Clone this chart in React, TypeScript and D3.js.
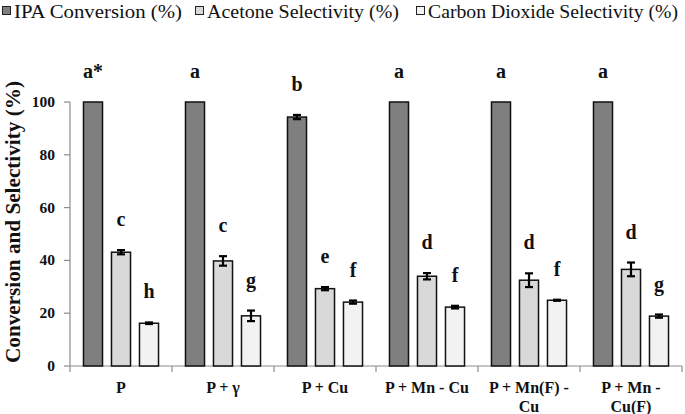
import React from "react";
import * as d3 from "d3";

const categories: string[][] = [
  ["P"],
  ["P + γ"],
  ["P + Cu"],
  ["P + Mn - Cu"],
  ["P + Mn(F) -", "Cu"],
  ["P + Mn -", "Cu(F)"],
];
const seriesNames = ["IPA Conversion (%)", "Acetone Selectivity (%)", "Carbon Dioxide Selectivity (%)"];
const ipaValues = [100, 100, 94.3, 100, 100, 100];
const ipaErrors = [0, 0, 0.8, 0, 0, 0];
const acetoneValues = [43.1, 39.8, 29.3, 34.0, 32.5, 36.6];
const acetoneErrors = [0.8, 1.8, 0.6, 1.2, 2.6, 2.6];
const co2Values = [16.2, 19.0, 24.2, 22.3, 24.9, 18.9];
const co2Errors = [0.3, 2.0, 0.6, 0.5, 0.2, 0.6];
const ipaLetters = ["a*", "a", "b", "a", "a", "a"];
const acetoneLetters = ["c", "c", "e", "d", "d", "d"];
const co2Letters = ["h", "g", "f", "f", "f", "g"];
const yTicks = [0, 20, 40, 60, 80, 100];

const colors = ["#7f7f7f", "#d9d9d9", "#f2f2f2"];
const FONT = "'Liberation Serif', 'Times New Roman', serif";

export default function App() {
  const W = 685, H = 414;
  const x = d3.scaleBand<number>().domain(d3.range(categories.length)).range([70, 682]).padding(0);
  const inner = d3.scaleBand<number>().domain([0, 1, 2]).range([-42, 42]).paddingInner(0.32).paddingOuter(0.16);
  const y = d3.scaleLinear().domain([0, 100]).range([366, 102]);

  const series = [
    { values: ipaValues, errors: ipaErrors, letters: ipaLetters },
    { values: acetoneValues, errors: acetoneErrors, letters: acetoneLetters },
    { values: co2Values, errors: co2Errors, letters: co2Letters },
  ];

  const legendX = [2, 195, 416];
  const legendLen = [168, 192, 250];

  return (
    <svg width={W} height={H} style={{ position: "absolute", left: 0, top: 0, background: "#fff" }} fontFamily={FONT}>
      {/* legend */}
      {seriesNames.map((n, i) => (
        <g key={n}>
          <rect x={legendX[i] + 0.5} y={6.5} width={8} height={8} fill={colors[i]} stroke="#222" strokeWidth={1} />
          <text x={legendX[i] + 12} y={17.5} fontSize={19.6} fill="#111" textLength={legendLen[i]} lengthAdjust="spacingAndGlyphs">{n}</text>
        </g>
      ))}

      {/* y axis */}
      <line x1={70} x2={70} y1={y(100)} y2={y(0)} stroke="#8c8c8c" strokeWidth={1.2} />
      {yTicks.map((t) => (
        <g key={t}>
          <line x1={64} x2={70} y1={y(t)} y2={y(t)} stroke="#8c8c8c" strokeWidth={1.2} />
          <text x={55} y={y(t) + 5} fontSize={15.5} fontWeight="bold" textAnchor="end" fill="#111">{t}</text>
        </g>
      ))}
      <text
        transform={`translate(20, 222) rotate(-90)`}
        fontSize={21}
        fontWeight="bold"
        textAnchor="middle"
        fill="#111"
        textLength={282}
        lengthAdjust="spacingAndGlyphs"
      >
        Conversion and Selectivity (%)
      </text>

      {/* x axis */}
      <line x1={70} x2={682} y1={y(0)} y2={y(0)} stroke="#8c8c8c" strokeWidth={1.2} />
      {d3.range(categories.length + 1).map((i) => {
        const xx = i < categories.length ? (x(i) as number) : 682;
        return <line key={i} x1={xx} x2={xx} y1={y(0)} y2={y(0) + 6} stroke="#8c8c8c" strokeWidth={1.2} />;
      })}
      {categories.map((lines, i) => {
        const cx = (x(i) as number) + x.bandwidth() / 2;
        return (
          <text key={i} x={cx} y={393} fontSize={16} fontWeight="bold" textAnchor="middle" fill="#111">
            {lines.map((l, j) => (
              <tspan key={j} x={cx} dy={j === 0 ? 0 : 19}>{l}</tspan>
            ))}
          </text>
        );
      })}

      {/* bars */}
      {series.map((s, si) =>
        s.values.map((v, ci) => {
          const cx = (x(ci) as number) + x.bandwidth() / 2;
          const bx = cx + (inner(si) as number);
          const bw = inner.bandwidth();
          const mid = bx + bw / 2;
          const e = s.errors[ci];
          const top = y(v + e);
          const bot = y(v - e);
          return (
            <g key={`${si}-${ci}`}>
              <rect x={bx} y={y(v)} width={bw} height={y(0) - y(v)} fill={colors[si]} stroke="#111" strokeWidth={1.5} />
              {e > 0 && (
                <g stroke="#000" strokeWidth={2.2}>
                  <line x1={mid} x2={mid} y1={top} y2={bot} />
                  <line x1={mid - 4} x2={mid + 4} y1={top} y2={top} />
                  <line x1={mid - 4} x2={mid + 4} y1={bot} y2={bot} />
                </g>
              )}
              <text x={mid} y={top - 24} fontSize={20} fontWeight="bold" textAnchor="middle" fill="#111">
                {s.letters[ci]}
              </text>
            </g>
          );
        })
      )}
    </svg>
  );
}
